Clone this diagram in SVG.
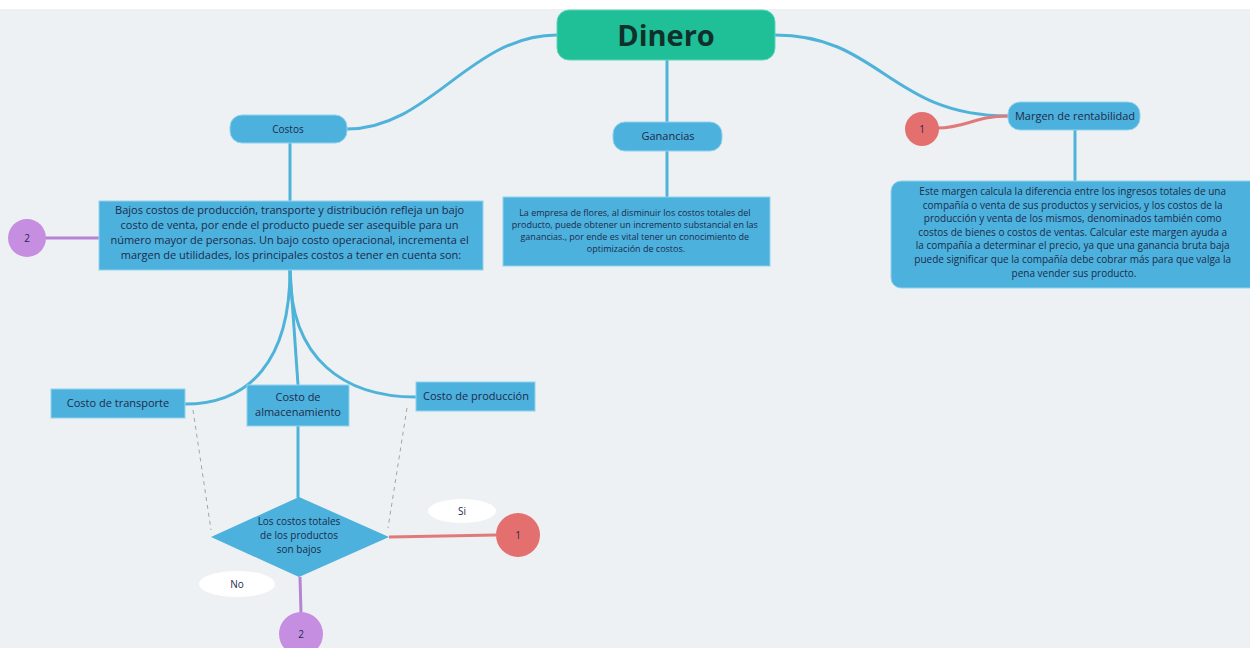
<svg xmlns="http://www.w3.org/2000/svg" width="1250" height="648" viewBox="0 0 1250 648">
<style>
.bg{fill:#eef1f4}
.pill{fill:#4cb1dc;stroke:#8fd3ee;stroke-width:1}
.box{fill:#4cb1dc;stroke:#8fd3ee;stroke-width:1}
.t{font-family:"Open Sans","Liberation Sans",sans-serif;fill:#1d2b4c;text-anchor:middle}
.s{font-size:9px}
.l{font-size:11px}
.m{font-size:10px}
.c{fill:none;stroke:#4fb3d9;stroke-width:3;stroke-linecap:round}
.red{fill:none;stroke:#e07a7a;stroke-width:3}
.pur{fill:none;stroke:#b684d4;stroke-width:3}
.dash{fill:none;stroke:#9aa8b0;stroke-width:1;stroke-dasharray:4 4}
</style>
<rect class="bg" x="0" y="0" width="1250" height="648"/>
<rect x="0" y="0" width="1250" height="9" fill="#ffffff"/>
<g id="connectors">
<path class="c" d="M557,35 C470,35 430,129 347,129"/>
<path class="c" d="M667,60 L667,122"/>
<path class="c" d="M775,35 C880,35 890,116 1008,116"/>
<path class="red" d="M938,128 C965,128 975,116 1008,116"/>
<path class="c" d="M290,143 L290,201"/>
<path class="c" d="M667,151 L667,197"/>
<path class="c" d="M1075,130 L1075,181"/>
<path class="c" d="M290,270 C290,360 250,404 185,404"/>
<path class="c" d="M290,270 L298,385"/>
<path class="c" d="M290,270 C290,360 345,397 416,397"/>
<path class="c" d="M298,426 L298,497"/>
<path class="red" d="M389,537 L496,535"/>
<path class="pur" d="M300,577 L301,613"/>
<path class="pur" d="M45,238 L99,238"/>
<path class="dash" d="M193,410 L211,530"/>
<path class="dash" d="M407,408 L388,528"/>
</g>
<g id="dinero">
<rect x="557" y="10" width="218" height="50" rx="12" fill="#1fbf98" stroke="#5fd6b8" stroke-width="1"/>
<text class="t" x="666" y="46" font-size="29" font-weight="bold" style="fill:#10302c">Dinero</text>
</g>
<g id="costos">
<rect class="pill" x="230" y="115" width="117" height="28" rx="12"/>
<text class="t m" x="288" y="133">Costos</text>
</g>
<g id="ganancias">
<rect class="pill" x="613" y="122" width="109" height="29" rx="12"/>
<text class="t l" x="668" y="140">Ganancias</text>
</g>
<g id="margen">
<rect class="pill" x="1008" y="102" width="132" height="28" rx="12"/>
<text class="t l" x="1075" y="120">Margen de rentabilidad</text>
</g>
<g id="circle1-top">
<circle cx="922" cy="129" r="17" fill="#e36f6f"/>
<text class="t m" x="922" y="133">1</text>
</g>
<g id="costos-box">
<rect class="box" x="99" y="201" width="384" height="69"/>
<text class="t l">
<tspan x="291" y="214">Bajos costos de producción, transporte y distribución refleja un bajo</tspan>
<tspan x="291" y="229">costo de venta, por ende el producto puede ser asequible para un</tspan>
<tspan x="291" y="244">número mayor de personas. Un bajo costo operacional, incrementa el</tspan>
<tspan x="291" y="259">margen de utilidades, los principales costos a tener en cuenta son:</tspan>
</text>
</g>
<g id="circle2-left">
<circle cx="27" cy="238" r="19" fill="#c58ee0"/>
<text class="t m" x="27" y="242">2</text>
</g>
<g id="ganancias-box">
<rect class="box" x="503" y="197" width="267" height="69"/>
<text class="t s">
<tspan x="636" y="216">La empresa de flores, al disminuir los costos totales del</tspan>
<tspan x="636" y="228">producto, puede obtener un incremento substancial en las</tspan>
<tspan x="636" y="240">ganancias., por ende es vital tener un conocimiento de</tspan>
<tspan x="636" y="252">optimización de costos.</tspan>
</text>
</g>
<g id="margen-box">
<rect class="box" x="891" y="181" width="370" height="107" rx="10"/>
<text class="t m">
<tspan x="1074" y="195">Este margen calcula la diferencia entre los ingresos totales de una</tspan>
<tspan x="1074" y="208.6">compañía o venta de sus productos y servicios, y los costos de la</tspan>
<tspan x="1074" y="222.2">producción y venta de los mismos, denominados también como</tspan>
<tspan x="1074" y="235.8">costos de bienes o costos de ventas. Calcular este margen ayuda a</tspan>
<tspan x="1074" y="249.4">la compañía a determinar el precio, ya que una ganancia bruta baja</tspan>
<tspan x="1074" y="263">puede significar que la compañía debe cobrar más para que valga la</tspan>
<tspan x="1074" y="276.6">pena vender sus producto.</tspan>
</text>
</g>
<g id="transporte">
<rect class="box" x="51" y="389" width="134" height="29"/>
<text class="t l" x="118" y="407">Costo de transporte</text>
</g>
<g id="almacenamiento">
<rect class="box" x="247" y="385" width="102" height="41"/>
<text class="t l"><tspan x="298" y="401">Costo de</tspan><tspan x="298" y="416">almacenamiento</tspan></text>
</g>
<g id="produccion">
<rect class="box" x="416" y="382" width="119" height="29"/>
<text class="t l" x="476" y="400">Costo de producción</text>
</g>
<g id="decision">
<polygon points="299,497 389,537 299,577 211,537" fill="#4cb1dc"/>
<text class="t" font-size="10"><tspan x="299" y="525">Los costos totales</tspan><tspan x="299" y="539">de los productos</tspan><tspan x="299" y="553">son bajos</tspan></text>
</g>
<g id="si">
<ellipse cx="462" cy="511" rx="34" ry="12" fill="#ffffff"/>
<text class="t m" x="462" y="515">Si</text>
</g>
<g id="circle1-bottom">
<circle cx="518" cy="535" r="22" fill="#e36f6f"/>
<text class="t m" x="518" y="539">1</text>
</g>
<g id="no">
<ellipse cx="237" cy="584" rx="38" ry="13" fill="#ffffff"/>
<text class="t m" x="237" y="588">No</text>
</g>
<g id="circle2-bottom">
<circle cx="301" cy="634" r="22" fill="#c58ee0"/>
<text class="t m" x="301" y="638">2</text>
</g>
</svg>
